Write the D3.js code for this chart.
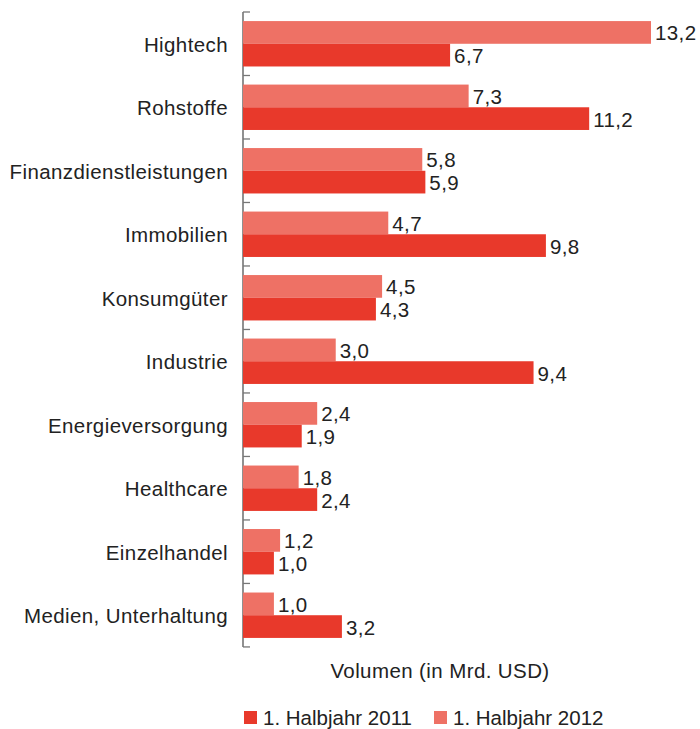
<!DOCTYPE html>
<html>
<head>
<meta charset="utf-8">
<script src="https://cdn.jsdelivr.net/npm/d3@7"></script>
<style>
  body { margin: 0; background: #fff; }
  text { font-family: "Liberation Sans", Arial, sans-serif; fill: #222; font-size: 20.5px; letter-spacing: 0.4px; }
</style>
</head>
<body>
<div id="chart"></div>
<script>
// data
var categories = ["Hightech", "Rohstoffe", "Finanzdienstleistungen", "Immobilien", "Konsumgüter",
    "Industrie", "Energieversorgung", "Healthcare", "Einzelhandel", "Medien, Unterhaltung"];
var values2012 = [13.2, 7.3, 5.8, 4.7, 4.5, 3.0, 2.4, 1.8, 1.2, 1.0];
var values2011 = [6.7, 11.2, 5.9, 9.8, 4.3, 9.4, 1.9, 2.4, 1.0, 3.2];
var seriesNames = ["1. Halbjahr 2011", "1. Halbjahr 2012"];

var W = 700, H = 729;
var axisX = 243, plotTop = 12, plotBottom = 647;
var dark = "#e8392b", light = "#ee7165";

var svg = d3.select("#chart").append("svg")
    .attr("width", W).attr("height", H);

var x = d3.scaleLinear().domain([0, 13.2]).range([axisX, 651]);
var y = d3.scaleBand().domain(categories).range([plotTop, plotBottom]).paddingInner(0.285).paddingOuter(0.143);

var fmt = function(v) { return d3.format(".1f")(v).replace(".", ","); };

// axis line + ticks at band boundaries
var step = y.step();
svg.append("line")
    .attr("x1", axisX).attr("x2", axisX).attr("y1", plotTop).attr("y2", plotBottom)
    .style("stroke", "#555").style("stroke-width", 1.3);
d3.range(categories.length + 1).forEach(function(i) {
    svg.append("line")
        .attr("x1", axisX).attr("x2", axisX + 7)
        .attr("y1", plotTop + i * step).attr("y2", plotTop + i * step)
        .style("stroke", "#777").style("stroke-width", 1.3);
});

var bw = y.bandwidth() / 2;

categories.forEach(function(c, i) {
    var yb = y(c);
    // 2012 (light) on top
    svg.append("rect")
        .attr("x", x(0)).attr("y", yb).attr("width", x(values2012[i]) - x(0)).attr("height", bw)
        .style("fill", light);
    svg.append("rect")
        .attr("x", x(0)).attr("y", yb + bw).attr("width", x(values2011[i]) - x(0)).attr("height", bw)
        .style("fill", dark);
    svg.append("text")
        .attr("x", x(values2012[i]) + 4).attr("y", yb + bw / 2 + 8)
        .text(fmt(values2012[i]));
    svg.append("text")
        .attr("x", x(values2011[i]) + 4).attr("y", yb + bw * 1.5 + 8)
        .text(fmt(values2011[i]));
    svg.append("text")
        .attr("x", 228).attr("y", yb + bw + 8)
        .attr("text-anchor", "end")
        .text(c);
});

// axis title
svg.append("text")
    .attr("x", 440).attr("y", 678)
    .attr("text-anchor", "middle")
    .text("Volumen (in Mrd. USD)");

// legend
var legend = [[seriesNames[0], dark, 244], [seriesNames[1], light, 434]];
legend.forEach(function(l) {
    svg.append("rect")
        .attr("x", l[2]).attr("y", 711).attr("width", 13).attr("height", 13)
        .style("fill", l[1]);
    svg.append("text")
        .attr("x", l[2] + 19).attr("y", 725)
        .style("letter-spacing", "0px")
        .text(l[0]);
});
</script>
</body>
</html>
